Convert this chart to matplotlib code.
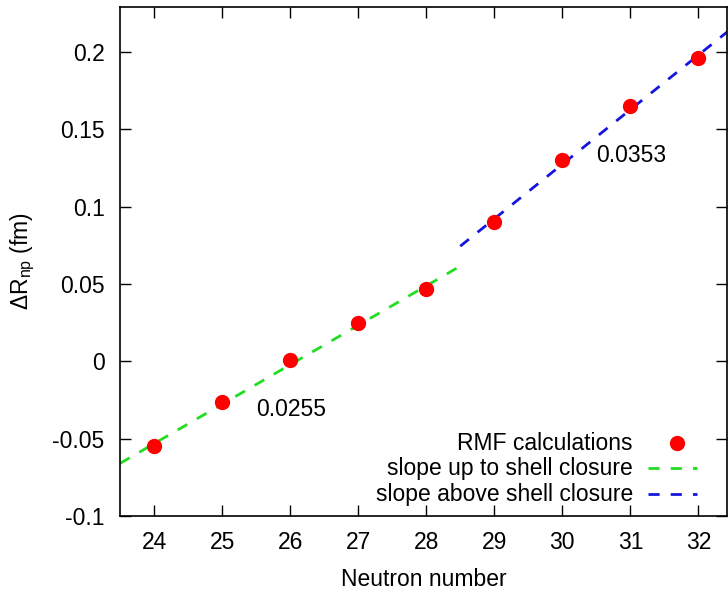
import matplotlib
matplotlib.use("Agg")
import matplotlib.pyplot as plt
import numpy as np

plt.rcParams['font.family'] = ['Liberation Sans', 'DejaVu Sans']
plt.rcParams['mathtext.fontset'] = 'custom'
plt.rcParams['mathtext.rm'] = 'Liberation Sans'
plt.rcParams['mathtext.it'] = 'Liberation Sans'

FS = 16.5

# Data
neutrons = [24, 25, 26, 27, 28, 29, 30, 31, 32]
delta_rnp = [-0.055, -0.026, 0.001, 0.025, 0.047, 0.090, 0.130, 0.165, 0.196]

# Linear fits: (slope, value at start, x range)
slope_low = 0.0255
low_x = [23.5, 28.5]
low_y0 = -0.066
slope_high = 0.0353
high_x = [28.5, 32.45]
high_y0 = 0.0744

xticks = [24, 25, 26, 27, 28, 29, 30, 31, 32]
yticks = [-0.1, -0.05, 0, 0.05, 0.1, 0.15, 0.2]
ytick_labels = ['-0.1', '-0.05', '0', '0.05', '0.1', '0.15', '0.2']

fig = plt.figure(figsize=(7.28, 5.95), dpi=100)
ax = fig.add_axes([120/728, 1 - 516/595, 607/728, 509/595])

lx = np.array(low_x)
ax.plot(lx, low_y0 + slope_low * (lx - low_x[0]), color='#22dd22', lw=2.0,
        dashes=(4, 4))
hx = np.array(high_x)
ax.plot(hx, high_y0 + slope_high * (hx - high_x[0]), color='#1515dd', lw=2.0,
        dashes=(4, 4))
ax.plot(neutrons, delta_rnp, 'o', color='#ff0000', ms=10, mec='#ff0000')

ax.text(25.5, -0.031, '0.0255', fontsize=FS, va='center', ha='left')
ax.text(30.5, 0.133, '0.0353', fontsize=FS, va='center', ha='left')

ax.set_xlim(23.5, 32.42)
ax.set_ylim(-0.1, 0.229)
ax.set_xticks(xticks)
ax.set_yticks(yticks)
ax.set_yticklabels(ytick_labels)
ax.tick_params(direction='in', length=8, width=1, top=True, right=True,
               labelsize=FS, pad=11, color='black')
for s in ax.spines.values():
    s.set_linewidth(1.2)

ax.set_xlabel('Neutron number', fontsize=FS, labelpad=10)
ax.set_ylabel(r'$\Delta\mathrm{R}_{\mathrm{np}}$ (fm)', fontsize=FS, labelpad=11)

# gnuplot-style legend
rows = [0.143, 0.094, 0.043]
labels = ['RMF calculations', 'slope up to shell closure', 'slope above shell closure']
for r, lab in zip(rows, labels):
    ax.text(0.845, r, lab, transform=ax.transAxes, ha='right', va='center', fontsize=FS)
ax.plot([0.918], [rows[0]], 'o', color='#ff0000', ms=10, transform=ax.transAxes, clip_on=False)
ax.plot([0.87, 0.951], [rows[1]] * 2, color='#22dd22', lw=2.0, dashes=(4, 4), transform=ax.transAxes)
ax.plot([0.87, 0.951], [rows[2]] * 2, color='#1515dd', lw=2.0, dashes=(4, 4), transform=ax.transAxes)

fig.savefig('out.png', dpi=100)
